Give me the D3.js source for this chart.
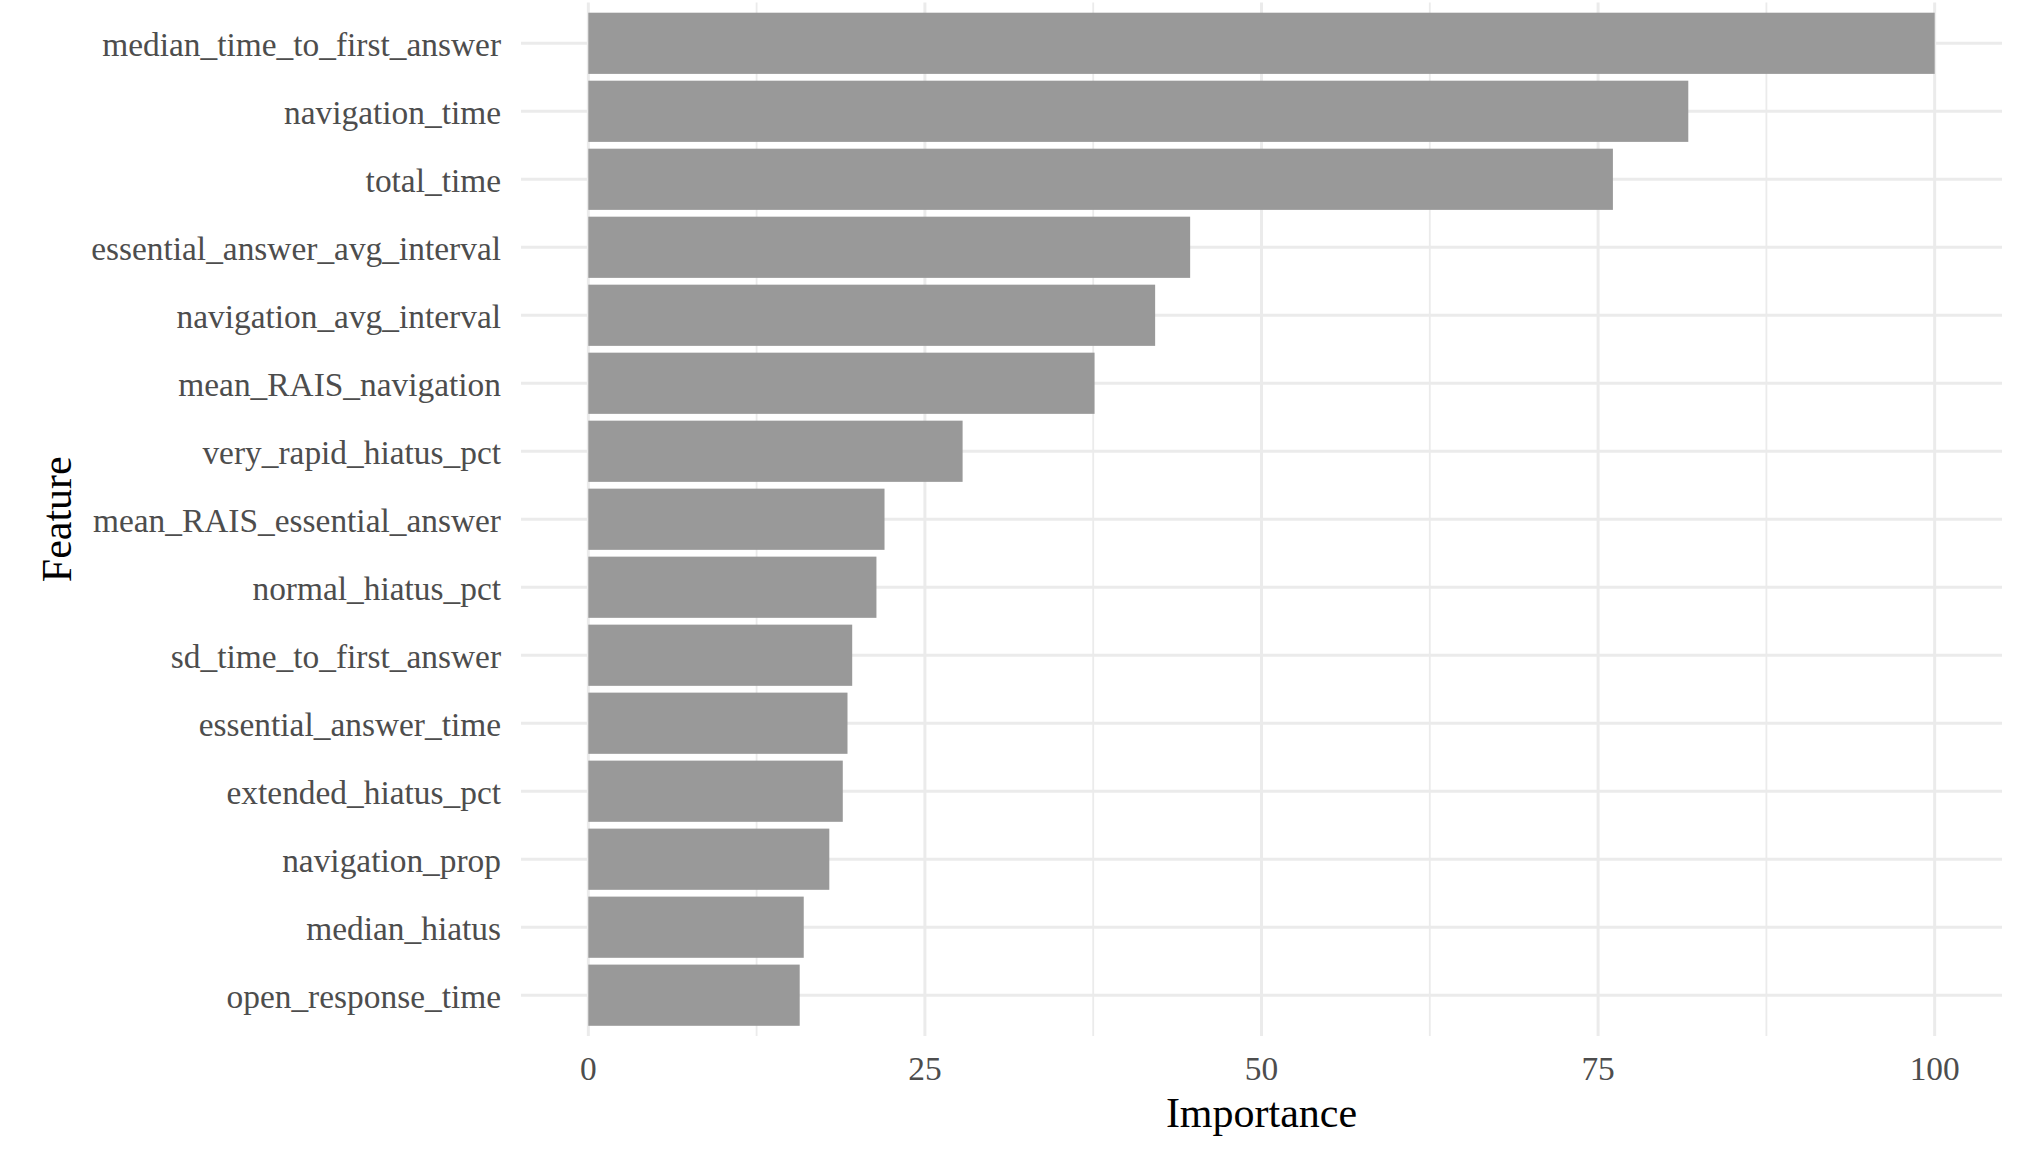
<!DOCTYPE html>
<html>
<head>
<meta charset="utf-8">
<script src="https://cdn.jsdelivr.net/npm/d3@7"></script>
<style>
  body { margin: 0; background: #fff; }
  text { font-family: "Liberation Serif", "Times New Roman", serif; }
</style>
</head>
<body>
<div id="chart"></div>
<script>
// data, top to bottom
const features = [
  'median_time_to_first_answer', 'navigation_time', 'total_time',
  'essential_answer_avg_interval', 'navigation_avg_interval', 'mean_RAIS_navigation',
  'very_rapid_hiatus_pct', 'mean_RAIS_essential_answer', 'normal_hiatus_pct',
  'sd_time_to_first_answer', 'essential_answer_time', 'extended_hiatus_pct',
  'navigation_prop', 'median_hiatus', 'open_response_time'
];
const importance = [100, 81.7, 76.1, 44.7, 42.1, 37.6, 27.8, 22.0, 21.4, 19.6, 19.25, 18.9, 17.9, 16.0, 15.7];
const xTicks = [0, 25, 50, 75, 100];
const xMinor = [12.5, 37.5, 62.5, 87.5];

const WIDTH = 2042;
const HEIGHT = 1156;
const panel = { left: 521, right: 2002, top: 2.5, bottom: 1036 };

const svg = d3.select('#chart').append('svg')
  .attr('width', WIDTH)
  .attr('height', HEIGHT);

const x = d3.scaleLinear().domain([-5, 105]).range([panel.left, panel.right]);
const y = d3.scaleBand().domain(features)
  .range([panel.top, panel.bottom])
  .paddingInner(0.1)
  .paddingOuter(0.15);

// grid
svg.append('g').selectAll('line.minor')
  .data(xMinor).join('line')
  .attr('x1', d => x(d)).attr('x2', d => x(d))
  .attr('y1', panel.top).attr('y2', panel.bottom)
  .attr('stroke', '#ebebeb').attr('stroke-width', 1.8);

svg.append('g').selectAll('line.major')
  .data(xTicks).join('line')
  .attr('x1', d => x(d)).attr('x2', d => x(d))
  .attr('y1', panel.top).attr('y2', panel.bottom)
  .attr('stroke', '#ebebeb').attr('stroke-width', 3);

svg.append('g').selectAll('line.hgrid')
  .data(features).join('line')
  .attr('x1', panel.left).attr('x2', panel.right)
  .attr('y1', d => y(d) + y.bandwidth() / 2).attr('y2', d => y(d) + y.bandwidth() / 2)
  .attr('stroke', '#ebebeb').attr('stroke-width', 3);

// bars
svg.append('g').selectAll('rect')
  .data(features).join('rect')
  .attr('x', x(0))
  .attr('y', d => y(d))
  .attr('width', (d, i) => x(importance[i]) - x(0))
  .attr('height', y.bandwidth())
  .attr('fill', '#999999');

// y tick labels
svg.append('g').selectAll('text')
  .data(features).join('text')
  .attr('x', panel.left - 20)
  .attr('y', d => y(d) + y.bandwidth() / 2)
  .attr('dy', '0.38em')
  .attr('text-anchor', 'end')
  .attr('font-size', 33.4)
  .attr('fill', '#4d4d4d')
  .text(d => d);

// x tick labels
svg.append('g').selectAll('text')
  .data(xTicks).join('text')
  .attr('x', d => x(d))
  .attr('y', 1080)
  .attr('text-anchor', 'middle')
  .attr('font-size', 33.4)
  .attr('fill', '#4d4d4d')
  .text(d => d);

// axis titles
svg.append('text')
  .attr('x', (panel.left + panel.right) / 2)
  .attr('y', 1127)
  .attr('text-anchor', 'middle')
  .attr('font-size', 42)
  .attr('fill', '#000')
  .text('Importance');

svg.append('text')
  .attr('transform', 'translate(71,' + ((panel.top + panel.bottom) / 2) + ')rotate(-90)')
  .attr('text-anchor', 'middle')
  .attr('font-size', 42)
  .attr('fill', '#000')
  .text('Feature');
</script>
</body>
</html>
